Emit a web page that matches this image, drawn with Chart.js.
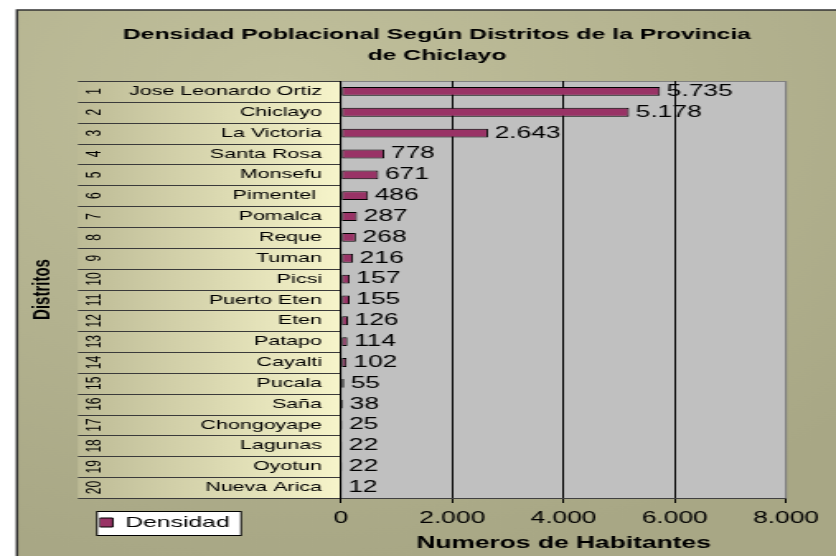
<!DOCTYPE html>
<html>
<head>
<meta charset="utf-8">
<script src="https://cdn.jsdelivr.net/npm/chart.js@4.4.1/dist/chart.umd.min.js"></script>
<style>
  html, body { margin: 0; padding: 0; background: #fff; overflow: hidden; }
  /* la imagen original esta estirada horizontalmente */
  #wrap { width: 507px; height: 556px; transform: scaleX(1.6489); transform-origin: 0 0; }
</style>
</head>
<body>
<div id="wrap"><canvas id="densidad_bar" width="507" height="556"></canvas></div>
<script>
'use strict';

// distritos, de arriba hacia abajo
const distritos = ['Jose Leonardo Ortiz', 'Chiclayo', 'La Victoria', 'Santa Rosa', 'Monsefu', 'Pimentel ',
  'Pomalca', 'Reque', 'Tuman', 'Picsi', 'Puerto Eten', 'Eten', 'Patapo', 'Cayalti', 'Pucala', 'Saña',
  'Chongoyape', 'Lagunas', 'Oyotun', 'Nueva Arica'];
const numeros = ['1', '2', '3', '4', '5', '6', '7', '8', '9', '10',
  '11', '12', '13', '14', '15', '16', '17', '18', '19', '20'];
const densidad = [5735, 5178, 2643, 778, 671, 486, 287, 268, 216, 157, 155, 126, 114, 102, 55, 38, 25, 22, 22, 12];
const xTicks = [0, 2000, 4000, 6000, 8000];

const fmt = v => String(v).replace(/\B(?=(\d{3})+(?!\d))/g, '.');

Chart.defaults.font.family = "'Liberation Sans', Arial, sans-serif";
Chart.defaults.color = '#000';

// fondo, tabla de distritos y caja de leyenda
const fondo = {
  id: 'fondo',
  beforeDraw(chart) {
    const {ctx, chartArea: a} = chart;
    const y = chart.scales.y;
    ctx.save();
    const g = ctx.createRadialGradient(170, 90, 10, 170, 90, 480);
    g.addColorStop(0, '#c0bf9b');
    g.addColorStop(1, '#a8a785');
    ctx.fillStyle = g;
    ctx.fillRect(10.3, 10, chart.width, chart.height);
    ctx.strokeStyle = '#333';
    ctx.lineWidth = 1.5;
    ctx.strokeRect(10.3, 10, chart.width + 10, chart.height + 10);

    ctx.fillStyle = '#c0c0c0';
    ctx.fillRect(a.left, a.top, a.right - a.left, a.bottom - a.top);
    ctx.strokeStyle = '#808080';
    ctx.lineWidth = 1;
    ctx.strokeRect(a.left, Math.round(a.top) + 0.5, a.right - a.left, a.bottom - a.top);

    // filas
    const x0 = 47.3;
    const rg = ctx.createLinearGradient(x0, 0, a.left, 0);
    rg.addColorStop(0, '#bdbb96');
    rg.addColorStop(0.55, '#dcdab2');
    rg.addColorStop(1, '#f7f5cb');
    ctx.fillStyle = rg;
    ctx.fillRect(x0, a.top, a.left - x0, a.bottom - a.top);
    ctx.strokeStyle = '#3a3a3a';
    ctx.beginPath();
    const n = distritos.length;
    for (let i = 0; i <= n; i++) {
      let yy;
      if (i === 0) yy = a.top;
      else if (i === n) yy = a.bottom;
      else yy = (y.getPixelForValue(i - 1) + y.getPixelForValue(i)) / 2;
      yy = Math.round(yy) + 0.5;
      ctx.moveTo(x0, yy);
      ctx.lineTo(a.left, yy);
    }
    ctx.stroke();

    ctx.fillStyle = '#000';
    ctx.font = "12px 'Liberation Sans', Arial, sans-serif";
    ctx.textAlign = 'center';
    ctx.textBaseline = 'middle';
    numeros.forEach((t, i) => {
      ctx.save();
      ctx.translate(57.6, y.getPixelForValue(i));
      ctx.rotate(-Math.PI / 2);
      ctx.fillText(t, 0, 0);
      ctx.restore();
    });

    // caja de leyenda
    ctx.fillStyle = '#fff';
    ctx.fillRect(58.8, 511, 87.4, 24);
    ctx.strokeStyle = '#000';
    ctx.strokeRect(58.8, 511.5, 87.4, 24);
    ctx.restore();
  }
};

// etiquetas de valores
const valores = {
  id: 'valores',
  afterDatasetsDraw(chart) {
    const {ctx} = chart;
    const meta = chart.getDatasetMeta(0);
    ctx.save();
    ctx.fillStyle = '#000';
    ctx.font = "16px 'Liberation Sans', Arial, sans-serif";
    ctx.textAlign = 'left';
    ctx.textBaseline = 'middle';
    meta.data.forEach((bar, i) => {
      ctx.fillText(fmt(densidad[i]), bar.x + 4, bar.y);
    });
    ctx.restore();
  }
};

// mover la leyenda a la esquina inferior izquierda
const moverLeyenda = {
  id: 'moverLeyenda',
  afterLayout(chart) {
    const lg = chart.legend;
    if (!lg) return;
    const w = lg.width, h = lg.height;
    lg.left = 60.4; lg.top = 515;
    lg.right = lg.left + w; lg.bottom = lg.top + h;
  }
};

let contextDensidad = document.getElementById('densidad_bar').getContext('2d');

new Chart(contextDensidad, {
  type: 'bar',
  data: {
    labels: distritos,
    datasets: [{
      label: 'Densidad',
      data: densidad,
      backgroundColor: '#993366',
      borderColor: '#000',
      borderWidth: 1,
      borderSkipped: false,
      barPercentage: 0.85,
      categoryPercentage: 0.5
    }]
  },
  options: {
    responsive: false,
    animation: false,
    indexAxis: 'y',
    layout: { padding: { left: 53.3, right: 30.3, top: 0, bottom: 0 } },
    scales: {
      x: {
        min: 0,
        max: 8000,
        afterBuildTicks: s => { s.ticks = xTicks.map(v => ({ value: v })); },
        ticks: { font: { size: 16 }, color: '#000', padding: 6, maxRotation: 0, callback: v => fmt(v) },
        grid: {
          color: c => (c.tick && c.tick.value === 8000) ? '#808080' : '#000',
          tickColor: '#000',
          tickLength: 5,
          lineWidth: 1
        },
        border: { color: '#404040', width: 1 },
        title: {
          display: true,
          text: 'Numeros de Habitantes',
          font: { size: 16, weight: 'bold' },
          color: '#000',
          padding: { top: 0, bottom: 3 }
        },
        afterFit: s => { s.height = 58; }
      },
      y: {
        grid: { display: false, drawTicks: false },
        border: { display: true, color: '#000', width: 1 },
        ticks: { font: { size: 13 }, color: '#000', padding: 11.5, autoSkip: false },
        title: {
          display: true,
          text: 'Distritos',
          font: { size: 15, weight: 'bold' },
          color: '#000',
          padding: { top: -36.8, bottom: 0 }
        },
        afterFit: s => { s.width = 153.5; }
      }
    },
    plugins: {
      title: {
        display: true,
        text: ['Densidad Poblacional Según Distritos de la Provincia', 'de Chiclayo'],
        font: { size: 15, weight: 'bold', lineHeight: 1.4 },
        color: '#000',
        padding: { top: 24.5, bottom: 14.5 }
      },
      legend: {
        position: 'chartArea',
        align: 'start',
        labels: { boxWidth: 8, boxHeight: 9, padding: 0, font: { size: 15 }, color: '#000' }
      },
      tooltip: { enabled: false }
    }
  },
  plugins: [fondo, valores, moverLeyenda]
});
</script>
</body>
</html>
